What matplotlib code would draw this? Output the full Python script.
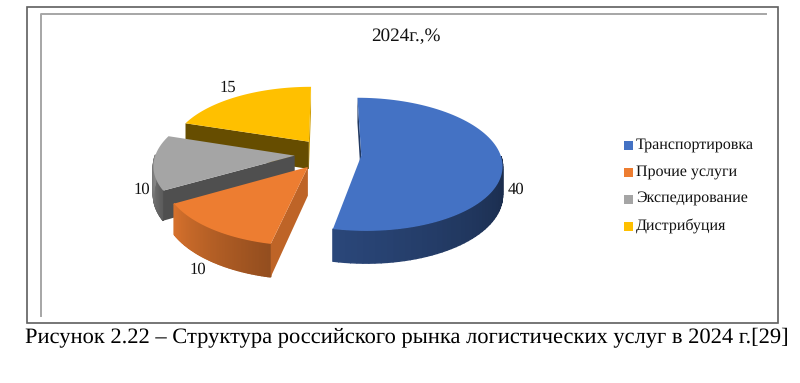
"""2024 structure of the Russian logistics services market, drawn as an exploded 3D pie."""

import matplotlib

matplotlib.use("Agg")
import matplotlib.pyplot as plt
import numpy as np
from matplotlib.patches import Polygon, Rectangle

categories = ["Транспортировка", "Прочие услуги", "Экспедирование", "Дистрибуция"]
values = [40, 10, 10, 15]
colors = ["#4472C4", "#ED7D31", "#A5A5A5", "#FFC000"]
title = "2024г.,%"
caption = "Рисунок 2.22 – Структура российского рынка логистических услуг в 2024 г.[29]"

# pie projection, in pixels of the picture
CX, CY = 328, 154
RX, RY = 139, 65
PERSP = 0.13
DEPTH = 28
EXPLODE = 0.24

plt.rcParams["font.family"] = ["Liberation Serif", "DejaVu Serif"]
plt.rcParams["text.hinting"] = "no_hinting"


def project(u, v, z=0.0):
    """Disc coords (u right, v away from viewer) to picture pixels; z is drop below the top."""
    s = 1 / (1 + PERSP * v)
    return CX + RX * u * s, CY - RY * v * s + DEPTH * z * s


def shade(color, f):
    return np.array(matplotlib.colors.to_rgb(color)) * f


def wall(ax, pts0, pts1, col0, col1, z):
    # strip of small quads so the side gets a gradient
    n = len(pts0) - 1
    for i in range(n):
        t = i / max(1, n - 1)
        c = col0 * (1 - t) + col1 * t
        q = [pts0[i], pts0[i + 1], pts1[i + 1], pts1[i]]
        ax.add_patch(Polygon(q, closed=True, fc=c, ec=c, lw=1.0, zorder=z + i * 1e-4))


def draw_slice(ax, a0, a1, color, z, face_from=None, face_to=None, arc_shades=None):
    """a0..a1 in degrees clockwise from the top."""
    mid = np.radians((a0 + a1) / 2)
    ou, ov = EXPLODE * np.sin(mid), EXPLODE * np.cos(mid)
    th = np.radians(np.linspace(a0, a1, 90))
    us, vs = ou + np.sin(th), ov + np.cos(th)

    # outer rim, only the part facing the viewer
    if arc_shades is not None:
        mask = np.cos(th) <= 0.02
        top = [project(u, v) for u, v in zip(us[mask], vs[mask])]
        bot = [project(u, v, 1) for u, v in zip(us[mask], vs[mask])]
        wall(ax, top, bot, shade(color, arc_shades[0]), shade(color, arc_shades[1]), z)

    # flat cut faces
    if face_from is not None:
        e = [project(ou, ov), project(us[0], vs[0]), project(us[0], vs[0], 1), project(ou, ov, 1)]
        ax.add_patch(Polygon(e, closed=True, fc=shade(color, face_from), ec="none", zorder=z + 0.1))
    if face_to is not None:
        e = [project(ou, ov), project(us[-1], vs[-1]), project(us[-1], vs[-1], 1), project(ou, ov, 1)]
        ax.add_patch(Polygon(e, closed=True, fc=shade(color, face_to), ec="none", zorder=z + 0.1))

    pts = [project(ou, ov)] + [project(u, v) for u, v in zip(us, vs)]
    ax.add_patch(Polygon(pts, closed=True, fc=color, ec="none", zorder=z + 0.2))


fig = plt.figure(figsize=(8.0, 3.83), dpi=100)
ax = fig.add_axes([0, 0, 1, 1])
ax.set_xlim(0, 800)
ax.set_ylim(383, 0)
ax.axis("off")

# frames
ax.add_patch(Rectangle((26.5, 7), 751, 316, fc="none", ec="#5f5f5f", lw=1.2, zorder=1))
ax.plot([41, 41, 766], [316, 13.5, 13.5], color="#a6a6a6", lw=1.4, zorder=1)

# slices, back to front, blue is on its own
total = sum(values)
spans = np.cumsum([0] + values) / total * 360
draw_slice(ax, spans[3], spans[4], colors[3], 2, face_from=0.40, face_to=0.80)
draw_slice(ax, spans[2], spans[3], colors[2], 3, face_from=0.48, arc_shades=(0.55, 0.80))
draw_slice(ax, spans[1], spans[2], colors[1], 4, face_from=0.80, arc_shades=(0.62, 0.90))
draw_slice(ax, spans[0], spans[1], colors[0], 5, face_from=0.50, arc_shades=(0.36, 0.62))

# data labels
label_xy = [(516, 190), (198, 270), (142, 190), (228, 88)]
for val, (x, y) in zip(values, label_xy):
    ax.text(x, y, str(val), ha="center", va="center", fontsize=12, color="#111111", zorder=8)

ax.text(406, 37, title, ha="center", va="center", fontsize=13.8, color="#111111")

# legend
legend_y = [145, 172, 199, 226]
for name, col, y in zip(categories, colors, legend_y):
    ax.add_patch(Rectangle((624, y - 4.5), 9, 9, fc=col, ec="none", zorder=6))
    ax.text(636, y, name, ha="left", va="center", fontsize=11.5, color="#111111")

ax.text(25, 338, caption, ha="left", va="center", fontsize=16.2, color="#000000")

fig.savefig("out.png", dpi=100)
